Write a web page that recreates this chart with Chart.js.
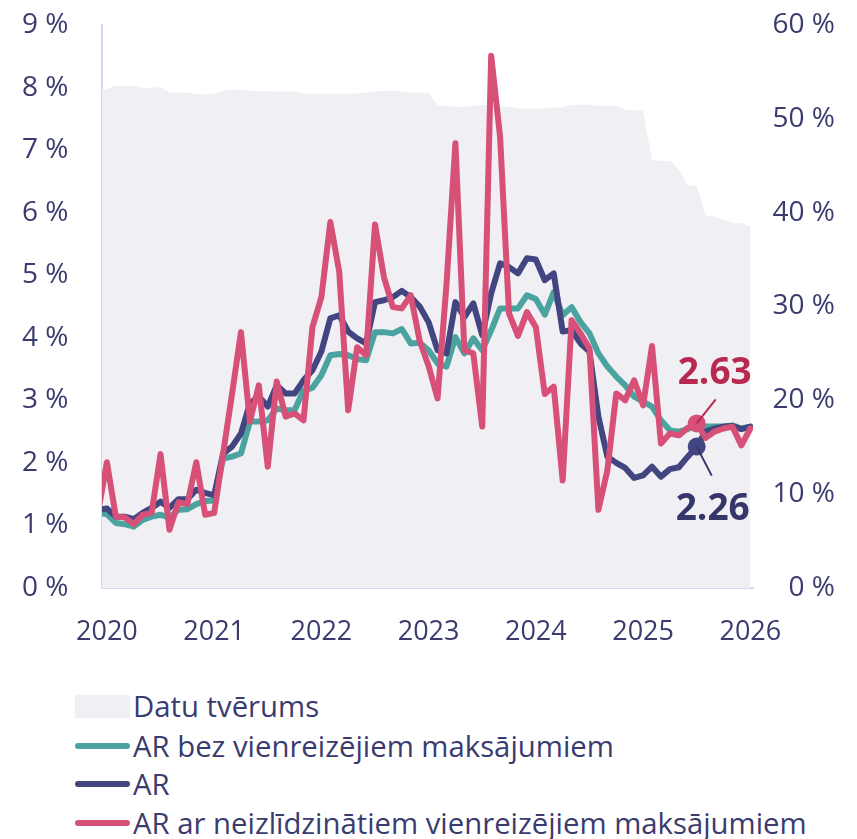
<!DOCTYPE html>
<html>
<head>
<meta charset="utf-8">
<script src="https://cdn.jsdelivr.net/npm/chart.js@4/dist/chart.umd.min.js"></script>
<style>
  body { margin: 0; background: #fff; font-family: "Open Sans", sans-serif; }
  #wrap { position: relative; width: 857px; height: 839px; }
  #chart { position: absolute; left: 0; top: 0; }
  .legend { position: absolute; left: 75px; top: 0; color: #3a3b6e; font-size: 29.3px; }
  .row { position: absolute; left: 0; height: 40px; display: flex; align-items: center; white-space: nowrap; }
  .sw { width: 55px; margin-right: 3px; }
</style>
</head>
<body>
<div id="wrap">
  <canvas id="chart" width="857" height="665"></canvas>
  <div class="legend" id="legend"></div>
</div>
<script>
// months from 2019-12 to 2026-01, index 0 = Jan 2020
const firstMonth = -1;
const yearLabels = ["2020", "2021", "2022", "2023", "2024", "2025", "2026"];

// Datu tvērums (right axis, %)
const coverage = [
  52.9, 53.2, 53.5, 53.5, 53.5, 53.3, 53.3, 53.4, 52.8, 52.8, 52.8, 52.6, 52.6,
  52.7, 53.0, 53.1, 53.1, 53.0, 52.95, 52.95, 52.9, 52.9, 52.9, 52.7, 52.7,
  52.7, 52.7, 52.7, 52.7, 52.7, 52.8, 52.9, 53.0, 53.0, 52.9, 52.8, 52.8,
  52.8, 51.4, 51.4, 51.3, 51.3, 51.4, 51.5, 51.4, 51.3, 51.3, 51.1, 51.1,
  51.1, 51.1, 51.2, 51.2, 51.5, 51.5, 51.5, 51.4, 51.4, 51.4, 51.0, 50.9,
  50.9, 45.6, 45.5, 45.5, 44.6, 42.9, 42.9, 39.7, 39.6, 39.3, 38.9, 38.9, 38.5
];
// AR bez vienreizējiem maksājumiem
const arBez = [
  1.2, 1.18, 1.04, 1.02, 0.98, 1.09, 1.14, 1.17, 1.13, 1.25, 1.26, 1.34, 1.39,
  1.4, 2.07, 2.1, 2.15, 2.66, 2.66, 2.68, 2.87, 2.84, 2.84, 3.16, 3.2,
  3.4, 3.72, 3.74, 3.72, 3.66, 3.64, 4.09, 4.09, 4.07, 4.14, 3.91, 3.92,
  3.8, 3.59, 3.54, 4.01, 3.75, 3.99, 3.8, 4.12, 4.47, 4.47, 4.47, 4.68,
  4.62, 4.37, 4.73, 4.36, 4.49, 4.25, 4.07, 3.75, 3.54, 3.38, 3.24, 3.06,
  2.98, 2.9, 2.68, 2.52, 2.5, 2.54, 2.6, 2.58, 2.58, 2.58, 2.6, 2.55, 2.58
];
// AR
const ar = [
  1.25, 1.27, 1.14, 1.14, 1.1, 1.2, 1.28, 1.38, 1.28, 1.42, 1.42, 1.57, 1.52,
  1.48, 2.15, 2.26, 2.47, 2.95, 3.06, 2.9, 3.24, 3.11, 3.11, 3.32, 3.48,
  3.78, 4.31, 4.36, 4.1, 3.99, 3.91, 4.57, 4.6, 4.65, 4.75, 4.65, 4.5,
  4.25, 3.8, 3.75, 4.57, 4.33, 4.55, 4.04, 4.71, 5.19, 5.13, 5.03, 5.27,
  5.25, 4.92, 5.03, 4.1, 4.12, 3.91, 3.78, 2.74, 2.1, 2.0, 1.92, 1.76,
  1.8, 1.94, 1.78, 1.9, 1.93, 2.1, 2.26, 2.5, 2.55, 2.58, 2.59, 2.54, 2.58
];
// AR ar neizlīdzinātiem vienreizējiem maksājumiem
const arNeizl = [
  1.2, 2.01, 1.14, 1.13, 1.02, 1.17, 1.2, 2.14, 0.93, 1.37, 1.34, 2.01, 1.17,
  1.2, 2.15, 3.1, 4.09, 2.66, 3.24, 1.94, 3.3, 2.74, 2.79, 2.68, 4.17,
  4.65, 5.85, 5.05, 2.84, 3.85, 3.72, 5.81, 4.97, 4.49, 4.47, 4.68, 3.95,
  3.55, 3.03, 4.85, 7.11, 3.8, 3.75, 2.58, 8.51, 7.21, 4.39, 4.03, 4.41,
  4.17, 3.1, 3.22, 1.72, 4.28, 4.07, 3.83, 1.25, 1.88, 3.11, 3.0, 3.32,
  2.92, 3.87, 2.31, 2.47, 2.44, 2.56, 2.63, 2.4, 2.5, 2.55, 2.58, 2.28, 2.55
];

const TEXT = "#3a3b6e";
const TEAL = "#4ba39f";
const NAVY = "#434580";
const PINK = "#d65077";
const AREA = "#f0eff4";
const annIndex = 67; // Jul 2025 in the arrays above

function toPoints(arr) {
  return arr.map((v, i) => ({ x: firstMonth + i, y: v }));
}

const lineBase = {
  borderWidth: 6,
  pointRadius: 0,
  tension: 0,
  borderJoinStyle: "round",
  borderCapStyle: "round",
  clip: 0,
  yAxisID: "y"
};

const annotate = {
  id: "annotate",
  afterDatasetsDraw(chart) {
    const ctx = chart.ctx;
    const items = [
      { ds: 0, color: "#b8294f", lx: 19, ly: -24, tx: 18, ty: -50 },
      { ds: 1, color: "#35366a", lx: 15, ly: 29, tx: 16, ty: 63 }
    ];
    ctx.save();
    items.forEach((a) => {
      const pt = chart.getDatasetMeta(a.ds).data[annIndex];
      const val = chart.data.datasets[a.ds].data[annIndex].y;
      ctx.strokeStyle = a.color;
      ctx.lineWidth = 2;
      ctx.beginPath();
      ctx.moveTo(pt.x, pt.y);
      ctx.lineTo(pt.x + a.lx, pt.y + a.ly);
      ctx.stroke();
      ctx.fillStyle = a.color;
      ctx.font = "bold 37px 'Open Sans'";
      ctx.textAlign = "center";
      ctx.textBaseline = "middle";
      ctx.fillText(val.toFixed(2), pt.x + a.tx, pt.y + a.ty);
    });
    ctx.restore();
  }
};

const tickFont = { family: "Open Sans", size: 28 };

const canvas = document.getElementById("chart");
const chart = new Chart(canvas, {
  type: "line",
  data: {
    datasets: [
      Object.assign({}, lineBase, {
        label: "AR ar neizlīdzinātiem vienreizējiem maksājumiem",
        data: toPoints(arNeizl),
        borderColor: PINK,
        pointRadius: (c) => (c.dataIndex === annIndex ? 9 : 0),
        pointBackgroundColor: PINK,
        pointBorderWidth: 0,
        order: 0
      }),
      Object.assign({}, lineBase, {
        label: "AR",
        data: toPoints(ar),
        borderColor: NAVY,
        pointRadius: (c) => (c.dataIndex === annIndex ? 9 : 0),
        pointBackgroundColor: NAVY,
        pointBorderWidth: 0,
        order: 1
      }),
      Object.assign({}, lineBase, {
        label: "AR bez vienreizējiem maksājumiem",
        data: toPoints(arBez),
        borderColor: TEAL,
        order: 2
      }),
      {
        label: "Datu tvērums",
        data: toPoints(coverage),
        yAxisID: "y2",
        backgroundColor: AREA,
        borderWidth: 0,
        pointRadius: 0,
        fill: "origin",
        tension: 0,
        clip: 0,
        order: 3
      }
    ]
  },
  options: {
    responsive: false,
    animation: false,
    layout: { padding: { left: 22, right: 22, top: 25, bottom: 0 } },
    plugins: { legend: { display: false }, tooltip: { enabled: false } },
    scales: {
      x: {
        type: "linear",
        min: -0.55,
        max: 72.3,
        afterBuildTicks: (axis) => {
          axis.ticks = yearLabels.map((y, i) => ({ value: i * 12 }));
        },
        afterFit: (axis) => { axis.height = 77; },
        ticks: {
          autoSkip: false,
          maxRotation: 0,
          padding: 20,
          color: TEXT,
          font: { family: "Open Sans", size: 27 },
          callback: (v) => yearLabels[v / 12]
        },
        grid: { display: false },
        border: { display: true, color: "#d5d8ec", width: 2 }
      },
      y: {
        position: "left",
        min: 0,
        max: 9,
        afterFit: (axis) => { axis.width = 80; },
        ticks: {
          stepSize: 1,
          padding: 0,
          crossAlign: "far",
          color: TEXT,
          font: tickFont,
          callback: (v) => v + " %"
        },
        grid: { display: false, drawTicks: false },
        border: { display: true, color: "#d5d8ec", width: 2 }
      },
      y2: {
        position: "right",
        min: 0,
        max: 60,
        afterFit: (axis) => { axis.width = 82; },
        ticks: {
          stepSize: 10,
          padding: 0,
          crossAlign: "far",
          color: TEXT,
          font: tickFont,
          callback: (v) => v + " %"
        },
        grid: { display: false, drawTicks: false },
        border: { display: false }
      }
    }
  },
  plugins: [annotate]
});

// legend built from the same datasets
const legendRows = [
  { label: "Datu tvērums", color: AREA, box: true, y: 686 },
  { label: "AR bez vienreizējiem maksājumiem", color: TEAL, y: 726 },
  { label: "AR", color: NAVY, y: 764 },
  { label: "AR ar neizlīdzinātiem vienreizējiem maksājumiem", color: PINK, y: 803 }
];
const legend = document.getElementById("legend");
legendRows.forEach((r) => {
  const row = document.createElement("div");
  row.className = "row";
  row.style.top = r.y + "px";
  const sw = document.createElement("span");
  sw.className = "sw";
  sw.style.background = r.color;
  sw.style.height = r.box ? "23px" : "6px";
  sw.style.borderRadius = r.box ? "0" : "3px";
  const tx = document.createElement("span");
  tx.textContent = r.label;
  row.appendChild(sw);
  row.appendChild(tx);
  legend.appendChild(row);
});
</script>
</body>
</html>
